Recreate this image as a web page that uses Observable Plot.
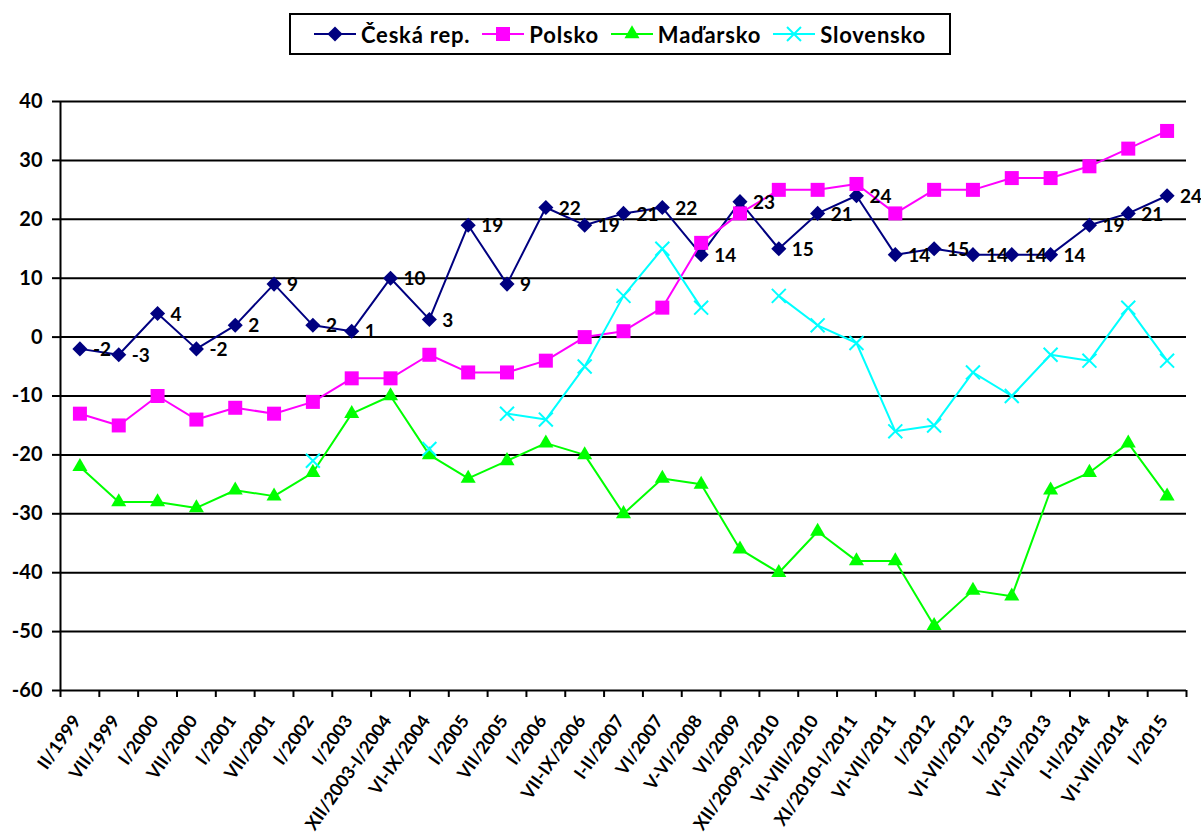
<!DOCTYPE html>
<html>
<head>
<meta charset="utf-8">
<script src="https://cdn.jsdelivr.net/npm/d3@7"></script>
<script src="https://cdn.jsdelivr.net/npm/@observablehq/plot@0.6"></script>
<style>
  html, body { margin: 0; padding: 0; background: #fff; }
  body { width: 1201px; height: 840px; overflow: hidden; font-family: Lato, sans-serif; }
  #legend { position: absolute; left: 289px; top: 13px; width: 662px; height: 42px; box-sizing: border-box;
    border: 2px solid #000; display: flex; align-items: center; justify-content: center; gap: 12px;
    font-weight: bold; font-size: 22px; letter-spacing: 0.8px; color: #000; }
  .item { display: flex; align-items: center; gap: 5px; white-space: nowrap; }
  #chart { position: absolute; left: 0; top: 70px; }
</style>
</head>
<body>
<div id="legend"></div>
<div id="chart"></div>
<script>
const categories = ["II/1999","VII/1999","I/2000","VII/2000","I/2001","VII/2001","I/2002","I/2003",
  "XII/2003-I/2004","VI-IX/2004","I/2005","VII/2005","I/2006","VII-IX/2006","I-II/2007","VI/2007",
  "V-VI/2008","VI/2009","XII/2009-I/2010","VI-VIII/2010","XI/2010-I/2011","VI-VII/2011","I/2012",
  "VI-VII/2012","I/2013","VI-VII/2013","I-II/2014","VI-VIII/2014","I/2015"];
const ceska = [-2,-3,4,-2,2,9,2,1,10,3,19,9,22,19,21,22,14,23,15,21,24,14,15,14,14,14,19,21,24];
const polsko = [-13,-15,-10,-14,-12,-13,-11,-7,-7,-3,-6,-6,-4,0,1,5,16,21,25,25,26,21,25,25,27,27,29,32,35];
const madarsko = [-22,-28,-28,-29,-26,-27,-23,-13,-10,-20,-24,-21,-18,-20,-30,-24,-25,-36,-40,-33,-38,-38,-49,-43,-44,-26,-23,-18,-27];
const slovensko = [null,null,null,null,null,null,-21,null,null,-19,null,-13,-14,-5,7,15,5,null,7,2,-1,-16,-15,-6,-10,-3,-4,5,-4];
const yTicks = [-60,-50,-40,-30,-20,-10,0,10,20,30,40];
const gridValues = [-50,-40,-30,-20,-10,0,10,20,30,40];

const seriesDefs = [
  {name: "Česká rep.", values: ceska, color: "#000080", symbol: "diamond2", r: 6.8, fill: true},
  {name: "Polsko", values: polsko, color: "#FF00FF", symbol: "square", r: 7.9, fill: true},
  {name: "Maďarsko", values: madarsko, color: "#00FF00", symbol: "triangle", r: 5.6, fill: true},
  {name: "Slovensko", values: slovensko, color: "#00FFFF", symbol: "times", r: 6.4, fill: false}
];

const toRows = (vals) => vals.map((v, i) => ({i: i + 0.5, v: v == null ? NaN : v, cat: categories[i]}));

const marks = [
  Plot.ruleY(gridValues, {stroke: "#000", strokeWidth: 2}),
  Plot.ruleY([-60], {stroke: "#000", strokeWidth: 2}),
  Plot.ruleX([0], {y1: -60, y2: 40, stroke: "#000", strokeWidth: 2}),
  Plot.axisY({ticks: yTicks, tickSize: 8, tickPadding: 10, tickFormat: d => String(d), label: null,
    fontSize: 20, fontWeight: "bold", strokeWidth: 2, stroke: "#000", fill: "#000"}),
  Plot.axisX({ticks: d3.range(30), tickSize: 7, tickFormat: () => "", label: null, strokeWidth: 2, stroke: "#000"}),
  Plot.text(categories, {x: (d, i) => i + 0.5, y: () => -60, text: d => d, rotate: -55,
    textAnchor: "end", dy: 27, dx: -3, fontSize: 18, fontWeight: "bold", fill: "#000"})
];

for (const s of seriesDefs) {
  const rows = toRows(s.values);
  marks.push(Plot.line(rows, {x: "i", y: "v", stroke: s.color, strokeWidth: 2}));
  marks.push(Plot.dot(rows.filter(d => !isNaN(d.v)), {x: "i", y: "v", symbol: () => s.symbol, r: s.r,
    fill: s.fill ? s.color : "none", stroke: s.color, strokeWidth: s.fill ? 0 : 2}));
}
marks.push(Plot.text(toRows(ceska), {x: "i", y: "v", text: d => String(d.v), textAnchor: "start",
  dx: 13, dy: 1, fontSize: 19, fontWeight: "bold", fill: "#000"}));

const chart = Plot.plot({
  width: 1201, height: 770,
  marginLeft: 60, marginRight: 15, marginTop: 31, marginBottom: 150,
  x: {type: "linear", domain: [0, 29], label: null},
  y: {type: "linear", domain: [-60, 40], label: null},
  style: {fontFamily: "Lato, sans-serif", fontSize: "18px", fontWeight: "bold", background: "#fff", color: "#000", overflow: "visible"},
  marks
});
document.getElementById("chart").appendChild(chart);

// legend
const legend = document.getElementById("legend");
for (const s of seriesDefs) {
  const item = document.createElement("div");
  item.className = "item";
  const sym = d3.symbol(s.symbol === "diamond2" ? d3.symbolDiamond2 : s.symbol === "square" ? d3.symbolSquare :
    s.symbol === "triangle" ? d3.symbolTriangle : d3.symbolTimes, Math.PI * s.r * s.r)();
  item.innerHTML = `<svg width="42" height="20" viewBox="0 0 42 20"><line x1="0" x2="42" y1="10" y2="10" stroke="${s.color}" stroke-width="2"/>` +
    `<path transform="translate(21,10)" d="${sym}" fill="${s.fill ? s.color : "none"}" stroke="${s.color}" stroke-width="${s.fill ? 0 : 2}"/></svg>` +
    `<span>${s.name}</span>`;
  legend.appendChild(item);
}
</script>
</body>
</html>
